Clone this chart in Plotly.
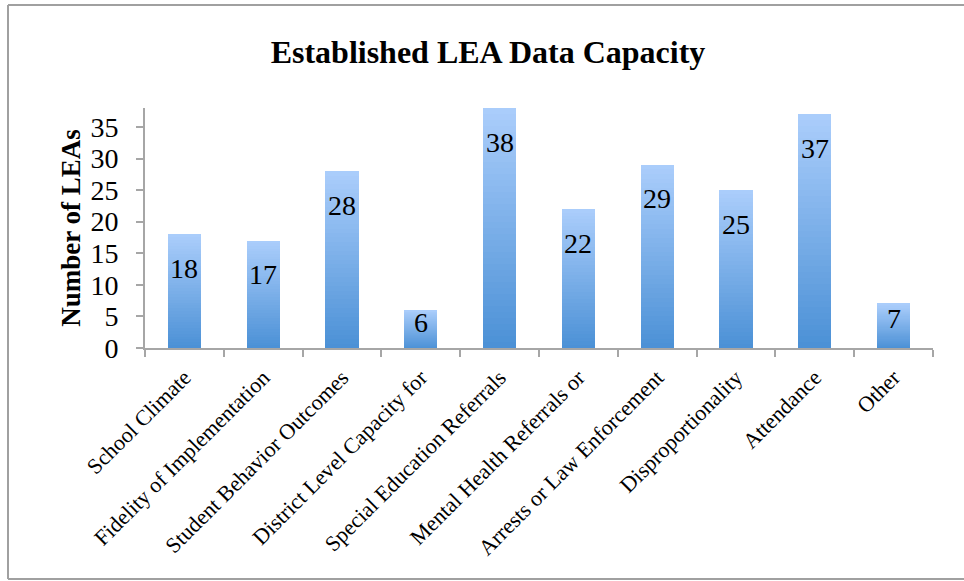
import plotly.graph_objects as go

categories = [
    "School Climate",
    "Fidelity of Implementation",
    "Student Behavior Outcomes",
    "District Level Capacity for",
    "Special Education Referrals",
    "Mental Health Referrals or",
    "Arrests or Law Enforcement",
    "Disproportionality",
    "Attendance",
    "Other",
]
values = [18, 17, 28, 6, 38, 22, 29, 25, 37, 7]
y_tickvals = [0, 5, 10, 15, 20, 25, 30, 35]

title_text = "Established LEA Data Capacity"
y_title = "Number of LEAs"

FONT = "Liberation Serif"
AXIS_COLOR = "#a6a6a6"
TOP_RGB = (170, 205, 251)
BOT_RGB = (76, 145, 214)
N_SEG = 40

fig = go.Figure()

# vertical gradient per bar via stacked equal slices of each value
for k in range(N_SEG):
    t = k / (N_SEG - 1)
    r, g, b = (round(BOT_RGB[i] + (TOP_RGB[i] - BOT_RGB[i]) * t) for i in range(3))
    fig.add_trace(go.Bar(
        x=categories,
        y=[v / N_SEG for v in values],
        marker=dict(color=f"rgb({r},{g},{b})", line=dict(width=0)),
        hoverinfo="skip",
        showlegend=False,
    ))

# value labels inside top of bars
Y_MAX = 38
PLOT_H = 240
for c, v in zip(categories, values):
    h_px = v / Y_MAX * PLOT_H
    shift = -min(34, h_px / 2 - 7)
    fig.add_annotation(
        x=c, y=v, text=str(v), showarrow=False,
        yanchor="middle", yshift=shift,
        font=dict(family=FONT, size=28, color="black"),
    )

# outer chart frame: left, top and bottom edges (right edge is cut off)
fx0 = (8 - 145) / 788
fx1 = (975 - 145) / 788
fy0 = (348 - 579) / 240
fy1 = (348 - 5) / 240
frame_line = dict(color="#a0a0a0", width=2)
for (x0, y0, x1, y1) in [(fx0, fy0, fx0, fy1), (fx0, fy1, fx1, fy1), (fx0, fy0, fx1, fy0)]:
    fig.add_shape(type="line", xref="paper", yref="paper",
                  x0=x0, y0=y0, x1=x1, y1=y1, line=frame_line, layer="below")

fig.update_layout(
    width=964, height=581,
    margin=dict(l=145, r=31, t=108, b=233),
    paper_bgcolor="white", plot_bgcolor="white",
    barmode="stack", bargap=0.58,
    showlegend=False,
    title=dict(
        text=f"<b>{title_text}</b>",
        x=488 / 964, xref="container", xanchor="center",
        y=1 - 52 / 581, yref="container", yanchor="middle",
        font=dict(family=FONT, size=32, color="black"),
    ),
    font=dict(family=FONT, color="black"),
)

fig.update_xaxes(
    type="category",
    tickangle=-45,
    tickfont=dict(family=FONT, size=22, color="black"),
    showline=True, linecolor=AXIS_COLOR, linewidth=2,
    ticks="outside", tickson="boundaries", ticklen=7, tickcolor=AXIS_COLOR, tickwidth=2,
    ticklabelstandoff=6,
    showgrid=False, zeroline=False, automargin=False,
)
fig.update_yaxes(
    range=[0, Y_MAX],
    tickvals=y_tickvals,
    tickfont=dict(family=FONT, size=28, color="black"),
    showline=True, linecolor=AXIS_COLOR, linewidth=2,
    ticks="outside", ticklen=7, tickcolor=AXIS_COLOR, tickwidth=2,
    ticklabelstandoff=12,
    showgrid=False, zeroline=False, automargin=False,
    title=dict(text=f"<b>{y_title}</b>", font=dict(family=FONT, size=27, color="black"), standoff=2),
)

fig.write_html(
    "out.html",
    config={"displayModeBar": False},
    post_script="document.body.style.margin='0';",
)
